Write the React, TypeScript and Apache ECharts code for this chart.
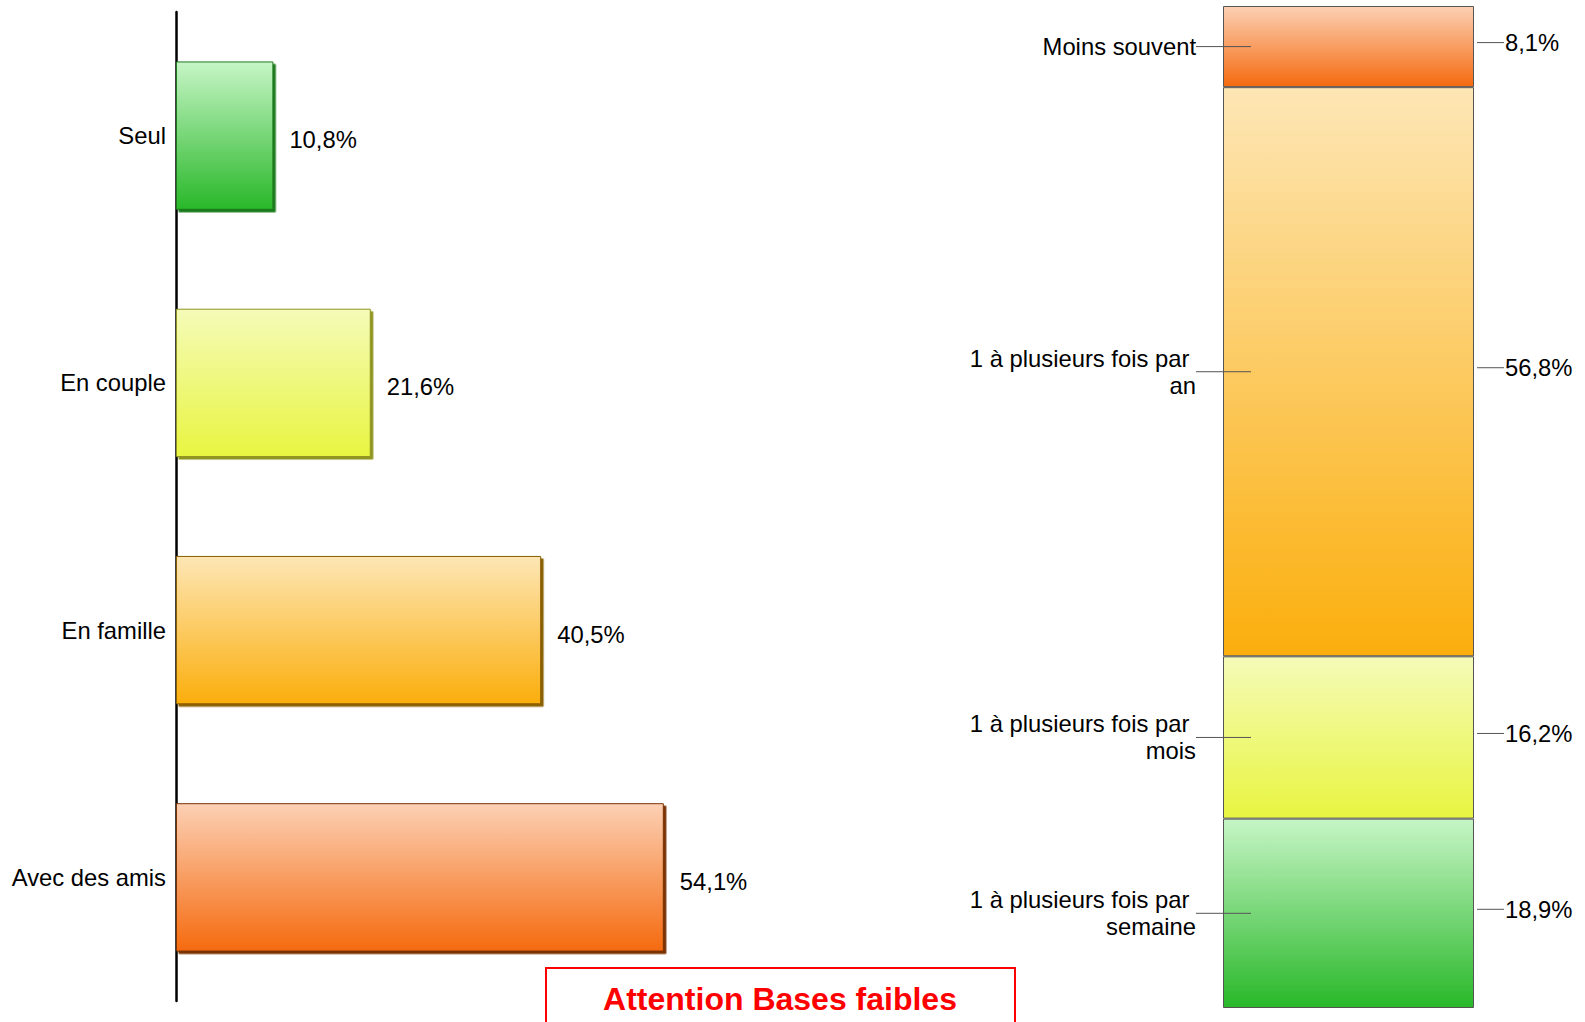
import React, { useEffect, useRef } from "react";
import * as echarts from "echarts";

const leftCategories = ["Seul", "En couple", "En famille", "Avec des amis"];
const leftValues = [10.8, 21.6, 40.5, 54.1];

// bottom to top
const rightCategories = [
  "1 à plusieurs fois par \nsemaine",
  "1 à plusieurs fois par \nmois",
  "1 à plusieurs fois par \nan",
  "Moins souvent",
];
const rightValues = [18.9, 16.2, 56.8, 8.1];

const palette = {
  green: { top: "#c6f5c6", bottom: "#29b829", edge: "#1f7a1f" },
  yellow: { top: "#f5fbb8", bottom: "#e8f540", edge: "#8f9420" },
  amber: { top: "#fde6b5", bottom: "#fbae0c", edge: "#8a5f00" },
  orange: { top: "#fcd0b4", bottom: "#f56a0f", edge: "#7a3300" },
};
const leftColors = [palette.green, palette.yellow, palette.amber, palette.orange];
const rightColors = [palette.green, palette.yellow, palette.amber, palette.orange];

const FONT = 'Arial, "Liberation Sans", sans-serif';
const FS = 23.8;
const fmt = (v: number) => v.toFixed(1).replace(".", ",") + "%";
const grad = (c: { top: string; bottom: string }) =>
  new echarts.graphic.LinearGradient(0, 0, 0, 1, [
    { offset: 0, color: c.top },
    { offset: 1, color: c.bottom },
  ]);

export default function App() {
  const ref = useRef<HTMLDivElement>(null);
  useEffect(() => {
    document.body.style.margin = "0";
    const chart = echarts.init(ref.current!, null, { renderer: "svg" });

    const annData: any[] = [];
    let acc = 0;
    rightValues.forEach((v, i) => {
      annData.push([0, acc + v / 2, v, rightCategories[i]]);
      acc += v;
    });

    const option: any = {
      animation: false,
      backgroundColor: "#ffffff",
      grid: [
        { left: 176, top: 12, width: 541, height: 989 },
        { left: 1223, top: 6, width: 251, height: 1002 },
      ],
      xAxis: [
        { gridIndex: 0, type: "value", min: 0, max: 60, show: false },
        { gridIndex: 1, type: "category", data: ["total"], show: false },
      ],
      yAxis: [
        {
          gridIndex: 0,
          type: "category",
          inverse: true,
          data: leftCategories,
          axisLine: { show: true, lineStyle: { color: "#000", width: 2.5 } },
          axisTick: { show: false },
          axisLabel: { color: "#000", fontSize: FS, fontFamily: FONT, margin: 10 },
        },
        { gridIndex: 1, type: "value", min: 0, max: 100, show: false },
      ],
      series: [
        {
          type: "bar",
          xAxisIndex: 0,
          yAxisIndex: 0,
          barCategoryGap: "40%",
          data: leftValues.map((v, i) => ({
            value: v,
            itemStyle: {
              color: grad(leftColors[i]),
              borderColor: leftColors[i].edge,
              borderWidth: 1,
              shadowColor: leftColors[i].edge,
              shadowOffsetX: 2.5,
              shadowOffsetY: 2.5,
              shadowBlur: 0,
            },
          })),
          label: {
            show: true,
            position: "right",
            distance: 16,
            offset: [0, 4],
            color: "#000",
            fontSize: FS,
            fontFamily: FONT,
            formatter: (p: any) => fmt(p.value),
          },
        },
        ...rightValues.map((v, i) => ({
          type: "bar",
          name: rightCategories[i],
          xAxisIndex: 1,
          yAxisIndex: 1,
          stack: "total",
          barWidth: "100%",
          data: [v],
          itemStyle: {
            color: grad(rightColors[i]),
            borderColor: "#555",
            borderWidth: 1,
          },
        })),
        {
          type: "custom",
          xAxisIndex: 1,
          yAxisIndex: 1,
          data: annData,
          z: 5,
          renderItem: (params: any, api: any) => {
            const pt = api.coord([api.value(0), api.value(1)]);
            const w = api.size([1, 0])[0];
            const x0 = pt[0] - w / 2;
            const x1 = pt[0] + w / 2;
            const y = pt[1];
            const item = annData[params.dataIndex];
            return {
              type: "group",
              children: [
                {
                  type: "line",
                  shape: { x1: x0 - 27, y1: y, x2: x0 + 28, y2: y },
                  style: { stroke: "#555", lineWidth: 1 },
                },
                {
                  type: "text",
                  x: x0 - 27,
                  y: y,
                  style: {
                    text: item[3],
                    fill: "#000",
                    fontSize: FS,
                    fontFamily: FONT,
                    align: "right",
                    verticalAlign: "middle",
                    lineHeight: 27,
                  },
                },
                {
                  type: "line",
                  shape: { x1: x1 + 3, y1: y - 4, x2: x1 + 30, y2: y - 4 },
                  style: { stroke: "#555", lineWidth: 1 },
                },
                {
                  type: "text",
                  x: x1 + 31,
                  y: y - 4,
                  style: {
                    text: fmt(item[2]),
                    fill: "#000",
                    fontSize: FS,
                    fontFamily: FONT,
                    align: "left",
                    verticalAlign: "middle",
                  },
                },
              ],
            };
          },
        },
      ],
      graphic: [
        {
          type: "rect",
          shape: { x: 546, y: 968, width: 469, height: 80 },
          style: { fill: "#fff", stroke: "#ff0000", lineWidth: 2 },
          z: 10,
        },
        {
          type: "text",
          x: 780,
          y: 999,
          z: 11,
          style: {
            text: "Attention Bases faibles",
            fill: "#ff0000",
            fontSize: 32,
            fontWeight: "bold",
            fontFamily: FONT,
            align: "center",
            verticalAlign: "middle",
          },
        },
      ],
    };
    chart.setOption(option);
    return () => chart.dispose();
  }, []);
  return (
    <div
      ref={ref}
      style={{ position: "fixed", left: 0, top: 0, width: 1585, height: 1022 }}
    />
  );
}
